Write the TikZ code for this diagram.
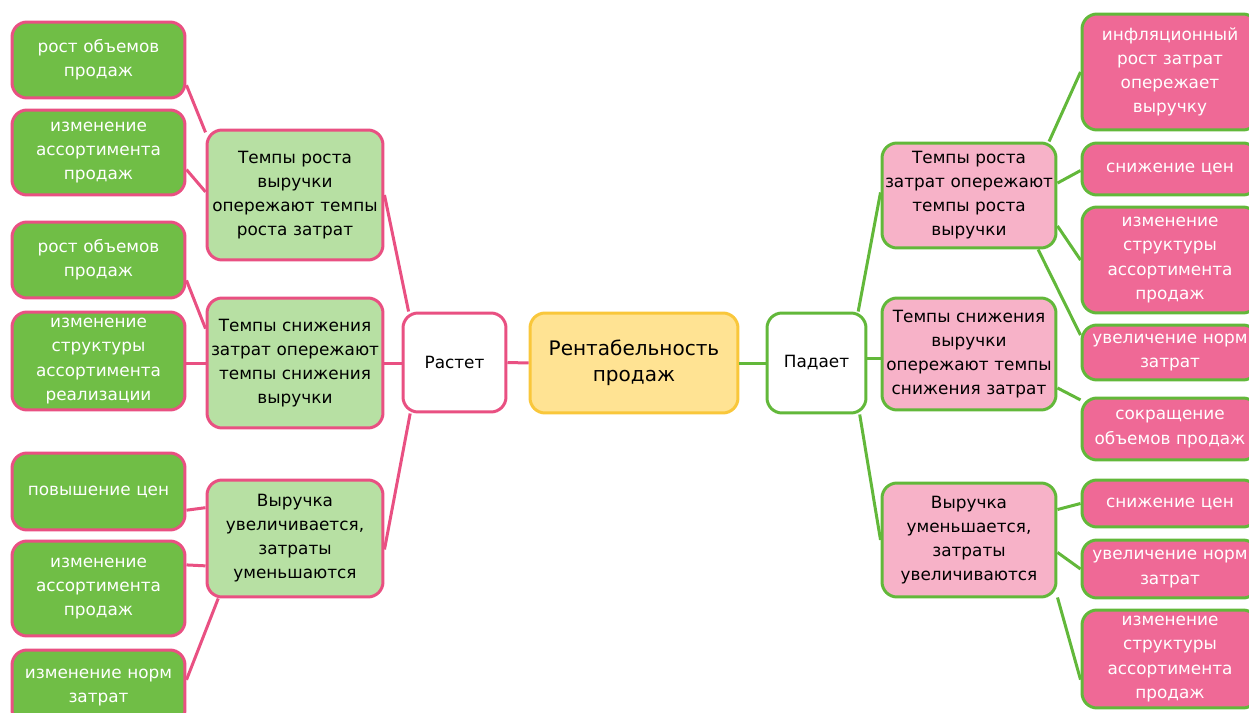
\documentclass[tikz,border=0pt]{standalone}
\usepackage{fontspec}
\setmainfont{DejaVu Sans}
\usepackage{tikz}
\definecolor{leafgreen}{HTML}{70BE46}
\definecolor{midgreen}{HTML}{B7E0A3}
\definecolor{pinkline}{HTML}{E95082}
\definecolor{greenline}{HTML}{62B83A}
\definecolor{leafpink}{HTML}{EF6996}
\definecolor{midpink}{HTML}{F7B2C8}
\definecolor{corefill}{HTML}{FFE393}
\definecolor{coreline}{HTML}{F9C73B}
\newcommand{\boxfont}{\fontsize{9.6}{13.7}\selectfont}
\newcommand{\corefont}{\fontsize{11.4}{14.6}\selectfont}

\begin{document}
\begin{tikzpicture}[x=0.02cm, y=-0.02cm,
    base/.style={rounded corners=0.3cm, line width=0.06cm, align=center, inner sep=0pt, font=\boxfont},
    leafl/.style={base, draw=pinkline, fill=leafgreen, text=white, minimum width=3.46cm, text width=3.3cm},
    midl/.style={base, draw=pinkline, fill=midgreen, minimum width=3.52cm, text width=3.4cm},
    leafr/.style={base, draw=greenline, fill=leafpink, text=white, minimum width=3.52cm, text width=3.4cm},
    midr/.style={base, draw=greenline, fill=midpink, minimum width=3.48cm, text width=3.4cm},
    pinkedge/.style={draw=pinkline, line width=0.06cm},
    greenedge/.style={draw=greenline, line width=0.06cm}]
  \clip (0,0) rectangle (1249,713);
  % centre and the two branches
  \node[base, draw=coreline, fill=corefill, font=\corefont, minimum width=4.16cm, minimum height=2cm, text width=4cm] (core) at (634,363) {Рентабельность\\продаж};
  \node[base, draw=pinkline, fill=white, minimum width=2.06cm, minimum height=1.98cm] (rastet) at (454.5,362.5) {Растет};
  \node[base, draw=greenline, fill=white, minimum width=1.98cm, minimum height=2cm] (padaet) at (816.5,363) {Падает};
  % left middle boxes
  \node[midl, minimum height=2.6cm] (m1) at (295,195) {Темпы роста\\выручки\\опережают темпы\\роста затрат};
  \node[midl, minimum height=2.6cm] (m2) at (295,363) {Темпы снижения\\затрат опережают\\темпы снижения\\выручки};
  \node[midl, minimum height=2.34cm] (m3) at (295,538.5) {Выручка\\увеличивается,\\затраты\\уменьшаются};
  % left leaves
  \node[leafl, minimum height=1.52cm] (l1) at (98.5,60) {рост объемов\\продаж};
  \node[leafl, minimum height=1.7cm] (l2) at (98.5,152.5) {изменение\\ассортимента\\продаж};
  \node[leafl, minimum height=1.52cm] (l3) at (98.5,260) {рост объемов\\продаж};
  \node[leafl, minimum height=1.96cm] (l4) at (98.5,361) {изменение\\структуры\\ассортимента\\реализации};
  \node[leafl, minimum height=1.54cm] (l5) at (98.5,491.5) {повышение цен};
  \node[leafl, minimum height=1.9cm] (l6) at (98.5,588.5) {изменение\\ассортимента\\продаж};
  \node[leafl, minimum height=1.5cm] (l7) at (98.5,687.5) {изменение норм\\затрат};
  % right middle boxes
  \node[midr, minimum height=2.1cm] (r1) at (969,195.5) {Темпы роста\\затрат опережают\\темпы роста\\выручки};
  \node[midr, minimum height=2.24cm] (r2) at (969,354) {Темпы снижения\\выручки\\опережают темпы\\снижения затрат};
  \node[midr, minimum height=2.28cm] (r3) at (969,540) {Выручка\\уменьшается,\\затраты\\увеличиваются};
  % right leaves
  \node[leafr, minimum height=2.32cm] (rl1) at (1170,72) {инфляционный\\рост затрат\\опережает\\выручку};
  \node[leafr, minimum height=1.04cm] (rl2) at (1170,169) {снижение цен};
  \node[leafr, minimum height=2.12cm] (rl3) at (1170,260) {изменение\\структуры\\ассортимента\\продаж};
  \node[leafr, minimum height=1.1cm] (rl4) at (1170,352.5) {увеличение норм\\затрат};
  \node[leafr, minimum height=1.24cm] (rl5) at (1170,429) {сокращение\\объемов продаж};
  \node[leafr, minimum height=0.94cm] (rl6) at (1170,503.5) {снижение цен};
  \node[leafr, minimum height=1.16cm] (rl7) at (1170,569) {увеличение норм\\затрат};
  \node[leafr, minimum height=1.96cm] (rl8) at (1170,659) {изменение\\структуры\\ассортимента\\продаж};
  % left side lines
  \draw[pinkedge] (core.west) -- (rastet.east);
  \draw[pinkedge] (m1.east) -- (rastet.132);
  \draw[pinkedge] (m2.east) -- (m2.east -| rastet.west);
  \draw[pinkedge] (m3.-7) -- (rastet.229);
  \draw[pinkedge] (l1.-16) -- (m1.145);
  \draw[pinkedge] (l2.-11) -- (m1.178);
  \draw[pinkedge] (l3.-13) -- (m2.159);
  \draw[pinkedge] (m2.west) -- (m2.west -| l4.east);
  \draw[pinkedge] (l5.-12) -- (m3.161);
  \draw[pinkedge] (l6.15) -- (m3.197);
  \draw[pinkedge] (l7.5) -- (m3.218);
  % right side lines
  \draw[greenedge] (core.east) -- (padaet.west);
  \draw[greenedge] (padaet.51) -- (r1.178);
  \draw[greenedge] (r2.183) -- (r2.183 -| padaet.east);
  \draw[greenedge] (padaet.-50) -- (r3.west);
  \draw[greenedge] (r1.34) -- (rl1.west);
  \draw[greenedge] (r1.8) -- (rl2.181);
  \draw[greenedge] (r1.-19) -- (rl3.west);
  \draw[greenedge] (r1.-38) -- (rl4.169);
  \draw[greenedge] (r2.-21) -- (rl5.162);
  \draw[greenedge] (r3.19) -- (rl6.west);
  \draw[greenedge] (r3.-8) -- (rl7.west);
  \draw[greenedge] (r3.-33) -- (rl8.193);
\end{tikzpicture}
\end{document}
